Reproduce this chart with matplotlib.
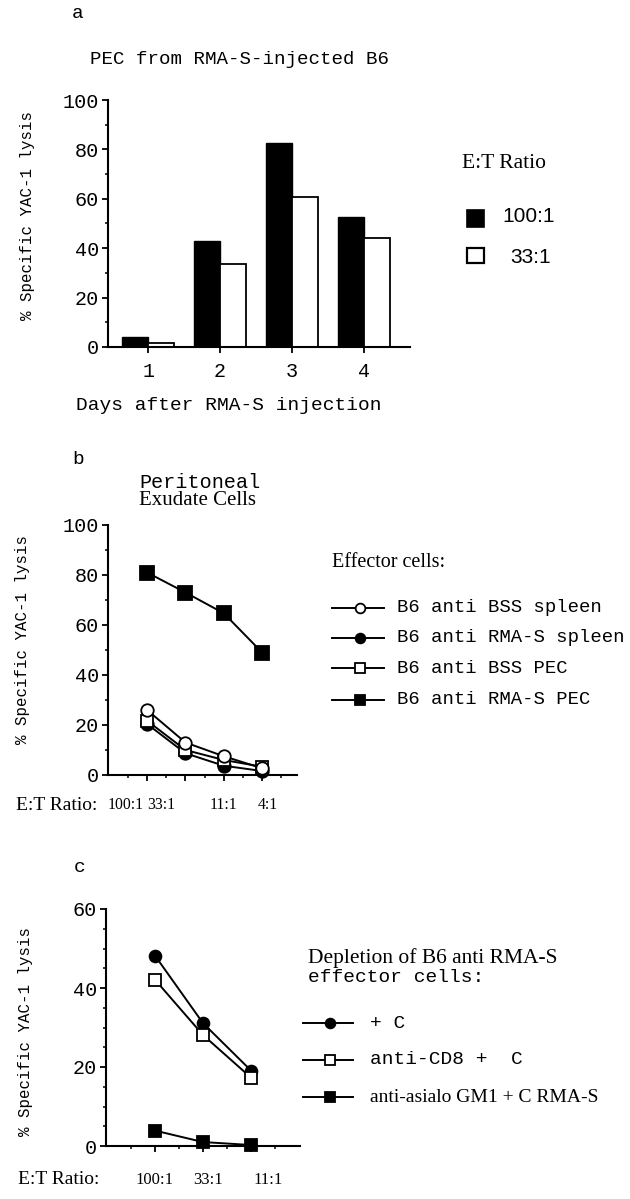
import numpy as np
import matplotlib.pyplot as plt
from matplotlib.lines import Line2D
from matplotlib.patches import Rectangle

# figure size in pixels (dpi 100)
W, H = 630, 1199
MONO = 'Liberation Mono'
SERIF = 'Liberation Serif'
SANS = 'Liberation Sans'

#-----------------
# data
#-----------------
# panel a: PEC from RMA-S-injected B6
days = [1, 2, 3, 4]
lysis_100 = [4.0, 43.0, 82.5, 52.5]
lysis_33 = [1.6, 33.5, 60.7, 44.0]

# panel b: peritoneal exudate cells, E:T ratio
ratios_b = ['100:1', '33:1', '11:1', '4:1']
bss_spleen = [26.0, 13.0, 7.5, 2.7]
rmas_spleen = [20.4, 8.7, 3.7, 1.6]
bss_pec = [21.7, 10.0, 6.0, 3.3]
rmas_pec = [81.0, 73.0, 64.7, 49.0]

# panel c: depletion of B6 anti RMA-S effector cells
ratios_c = ['100:1', '33:1', '11:1']
plus_c = [48.2, 31.1, 19.1]
cd8_c = [42.1, 28.1, 17.3]
asialo_c = [3.9, 1.0, 0.25]

#-----------------
# helpers
#-----------------
fig = plt.figure(figsize=(W / 100, H / 100), dpi=100)


def px_axes(left, top, right, bottom):
    return fig.add_axes([left / W, 1 - bottom / H, (right - left) / W, (bottom - top) / H])


def ftext(x, y, s, **kw):
    kw.setdefault('va', 'center')
    kw.setdefault('ha', 'left')
    fig.text(x / W, 1 - y / H, s, **kw)


def style_axes(ax):
    for side in ['top', 'right']:
        ax.spines[side].set_visible(False)
    for side in ['left', 'bottom']:
        ax.spines[side].set_linewidth(1.5)
    ax.tick_params(which='major', direction='out', length=4.5, width=1.3, labelsize=14.5, pad=2)
    ax.tick_params(which='minor', direction='out', length=2.5, width=1.1)
    for lab in ax.get_yticklabels():
        lab.set_family(MONO)


def legend_line(x0, x1, xm, y, marker, face, ms):
    fig.add_artist(Line2D([x0 / W, x1 / W], [1 - y / H] * 2, color='k', lw=1.4,
                          transform=fig.transFigure))
    fig.add_artist(Line2D([xm / W], [1 - y / H], marker=marker, ms=ms, mfc=face, mec='k',
                          mew=1.3, transform=fig.transFigure))


#-----------------
# panel a
#-----------------
axA = px_axes(108, 100, 410, 347)
barw = 0.36
axA.bar(np.array(days) - barw, lysis_100, width=barw, align='edge', color='black',
        edgecolor='black', linewidth=1.0)
axA.bar(np.array(days), lysis_33, width=barw, align='edge', color='white',
        edgecolor='black', linewidth=1.3)
axA.set_xlim(0.44, 4.64)
axA.set_ylim(0, 100)
axA.set_xticks(days)
axA.set_xticklabels([str(d) for d in days], family=MONO)
axA.set_yticks(np.arange(0, 101, 20))
axA.set_yticks(np.arange(10, 100, 20), minor=True)
style_axes(axA)
axA.tick_params(axis='x', pad=6)

ftext(78, 13, 'a', family=MONO, fontsize=14, ha='center')
ftext(90, 60, 'PEC from RMA-S-injected B6', family=MONO, fontsize=13.8)
ftext(76, 405, 'Days after RMA-S injection', family=MONO, fontsize=14)
ftext(28, 215, '% Specific YAC-1 lysis', family=MONO, fontsize=11.3, rotation=90, ha='center')

ftext(462, 163, 'E:T Ratio', family=SERIF, fontsize=15.5)
fig.add_artist(Rectangle((467 / W, 1 - 227 / H), 17 / W, 17 / H, transform=fig.transFigure,
                         facecolor='black', edgecolor='black', lw=1.2))
fig.add_artist(Rectangle((467 / W, 1 - 263 / H), 17 / W, 15 / H, transform=fig.transFigure,
                         facecolor='white', edgecolor='black', lw=1.6))
ftext(502, 216, '100:1', family=SANS, fontsize=15)
ftext(510, 258, '33:1', family=SANS, fontsize=15)

#-----------------
# panel b
#-----------------
axB = px_axes(108, 525, 297, 775)
xb = np.arange(len(ratios_b))
axB.plot(xb, rmas_spleen, '-o', color='k', mfc='black', mec='k', ms=9, lw=1.4, mew=1.3, clip_on=False)
axB.plot(xb, bss_pec, '-s', color='k', mfc='white', mec='k', ms=9, lw=1.4, mew=1.3, clip_on=False)
axB.plot(xb, bss_spleen, '-o', color='k', mfc='white', mec='k', ms=9, lw=1.4, mew=1.3, clip_on=False)
axB.plot(xb, rmas_pec, '-s', color='k', mfc='black', mec='k', ms=9.5, lw=1.4, mew=1.3, clip_on=False)
axB.set_xlim(-1.02, 3.91)
axB.set_ylim(0, 100)
axB.set_xticks(xb)
axB.set_xticks(np.arange(-0.5, 3.6, 1.0), minor=True)
axB.set_xticklabels([])
axB.set_yticks(np.arange(0, 101, 20))
axB.set_yticks(np.arange(10, 100, 20), minor=True)
style_axes(axB)
b_label_x = [-0.55, 0.38, 2.0, 3.16]
for xp, lab in zip(b_label_x, ratios_b):
    axB.text(xp, -0.12, lab, transform=axB.get_xaxis_transform(), ha='center', va='center',
             family=SERIF, fontsize=11.3)

ftext(78, 460, 'b', family=MONO, fontsize=14, ha='center')
ftext(139, 482, 'Peritoneal', family=MONO, fontsize=14.5)
ftext(139, 500, 'Exudate Cells', family=SERIF, fontsize=15)
ftext(23, 639, '% Specific YAC-1 lysis', family=MONO, fontsize=11.3, rotation=90, ha='center')
ftext(16, 805, 'E:T Ratio:', family=SERIF, fontsize=14)

ftext(332, 562, 'Effector cells:', family=SERIF, fontsize=14.5)
legend_b = [('o', 'white', 'B6 anti BSS spleen', 608),
            ('o', 'black', 'B6 anti RMA-S spleen', 638),
            ('s', 'white', 'B6 anti BSS PEC', 668),
            ('s', 'black', 'B6 anti RMA-S PEC', 700)]
for mk, face, lab, yy in legend_b:
    legend_line(332, 384, 360, yy, mk, face, 7)
    ftext(397, yy, lab, family=MONO, fontsize=13.6)

#-----------------
# panel c
#-----------------
axC = px_axes(106, 909, 300, 1146)
xc = np.arange(len(ratios_c))
axC.plot(xc, plus_c, '-o', color='k', mfc='black', mec='k', ms=8.5, lw=1.4, mew=1.3, clip_on=False)
axC.plot(xc, cd8_c, '-s', color='k', mfc='white', mec='k', ms=8.5, lw=1.4, mew=1.3, clip_on=False)
axC.plot(xc, asialo_c, '-s', color='k', mfc='black', mec='k', ms=8.5, lw=1.4, mew=1.3, clip_on=False)
axC.set_xlim(-1.02, 3.02)
axC.set_ylim(0, 60)
axC.set_xticks(xc)
axC.set_xticks(np.arange(-0.5, 3.0, 1.0), minor=True)
axC.set_xticklabels([])
axC.set_yticks(np.arange(0, 61, 20))
axC.set_yticks([v for v in range(5, 60, 5) if v % 20], minor=True)
style_axes(axC)
c_label_x = [0.0, 1.1, 2.35]
for xp, lab in zip(c_label_x, ratios_c):
    axC.text(xp, -0.143, lab, transform=axC.get_xaxis_transform(), ha='center', va='center',
             family=SERIF, fontsize=12)

ftext(80, 867, 'c', family=MONO, fontsize=14, ha='center')
ftext(26, 1031, '% Specific YAC-1 lysis', family=MONO, fontsize=11.3, rotation=90, ha='center')
ftext(18, 1180, 'E:T Ratio:', family=SERIF, fontsize=14)

ftext(308, 958, 'Depletion of B6 anti RMA-S', family=SERIF, fontsize=15.5)
ftext(308, 978, 'effector cells:', family=MONO, fontsize=14)
legend_c = [('o', 'black', '+ C', MONO, 1023),
            ('s', 'white', 'anti-CD8 +  C', MONO, 1060),
            ('s', 'black', 'anti-asialo GM1 + C RMA-S', SERIF, 1097)]
for mk, face, lab, fam, yy in legend_c:
    legend_line(303, 353, 330, yy, mk, face, 7)
    ftext(370, yy, lab, family=fam, fontsize=14)

fig.savefig('out.png', dpi=100)
